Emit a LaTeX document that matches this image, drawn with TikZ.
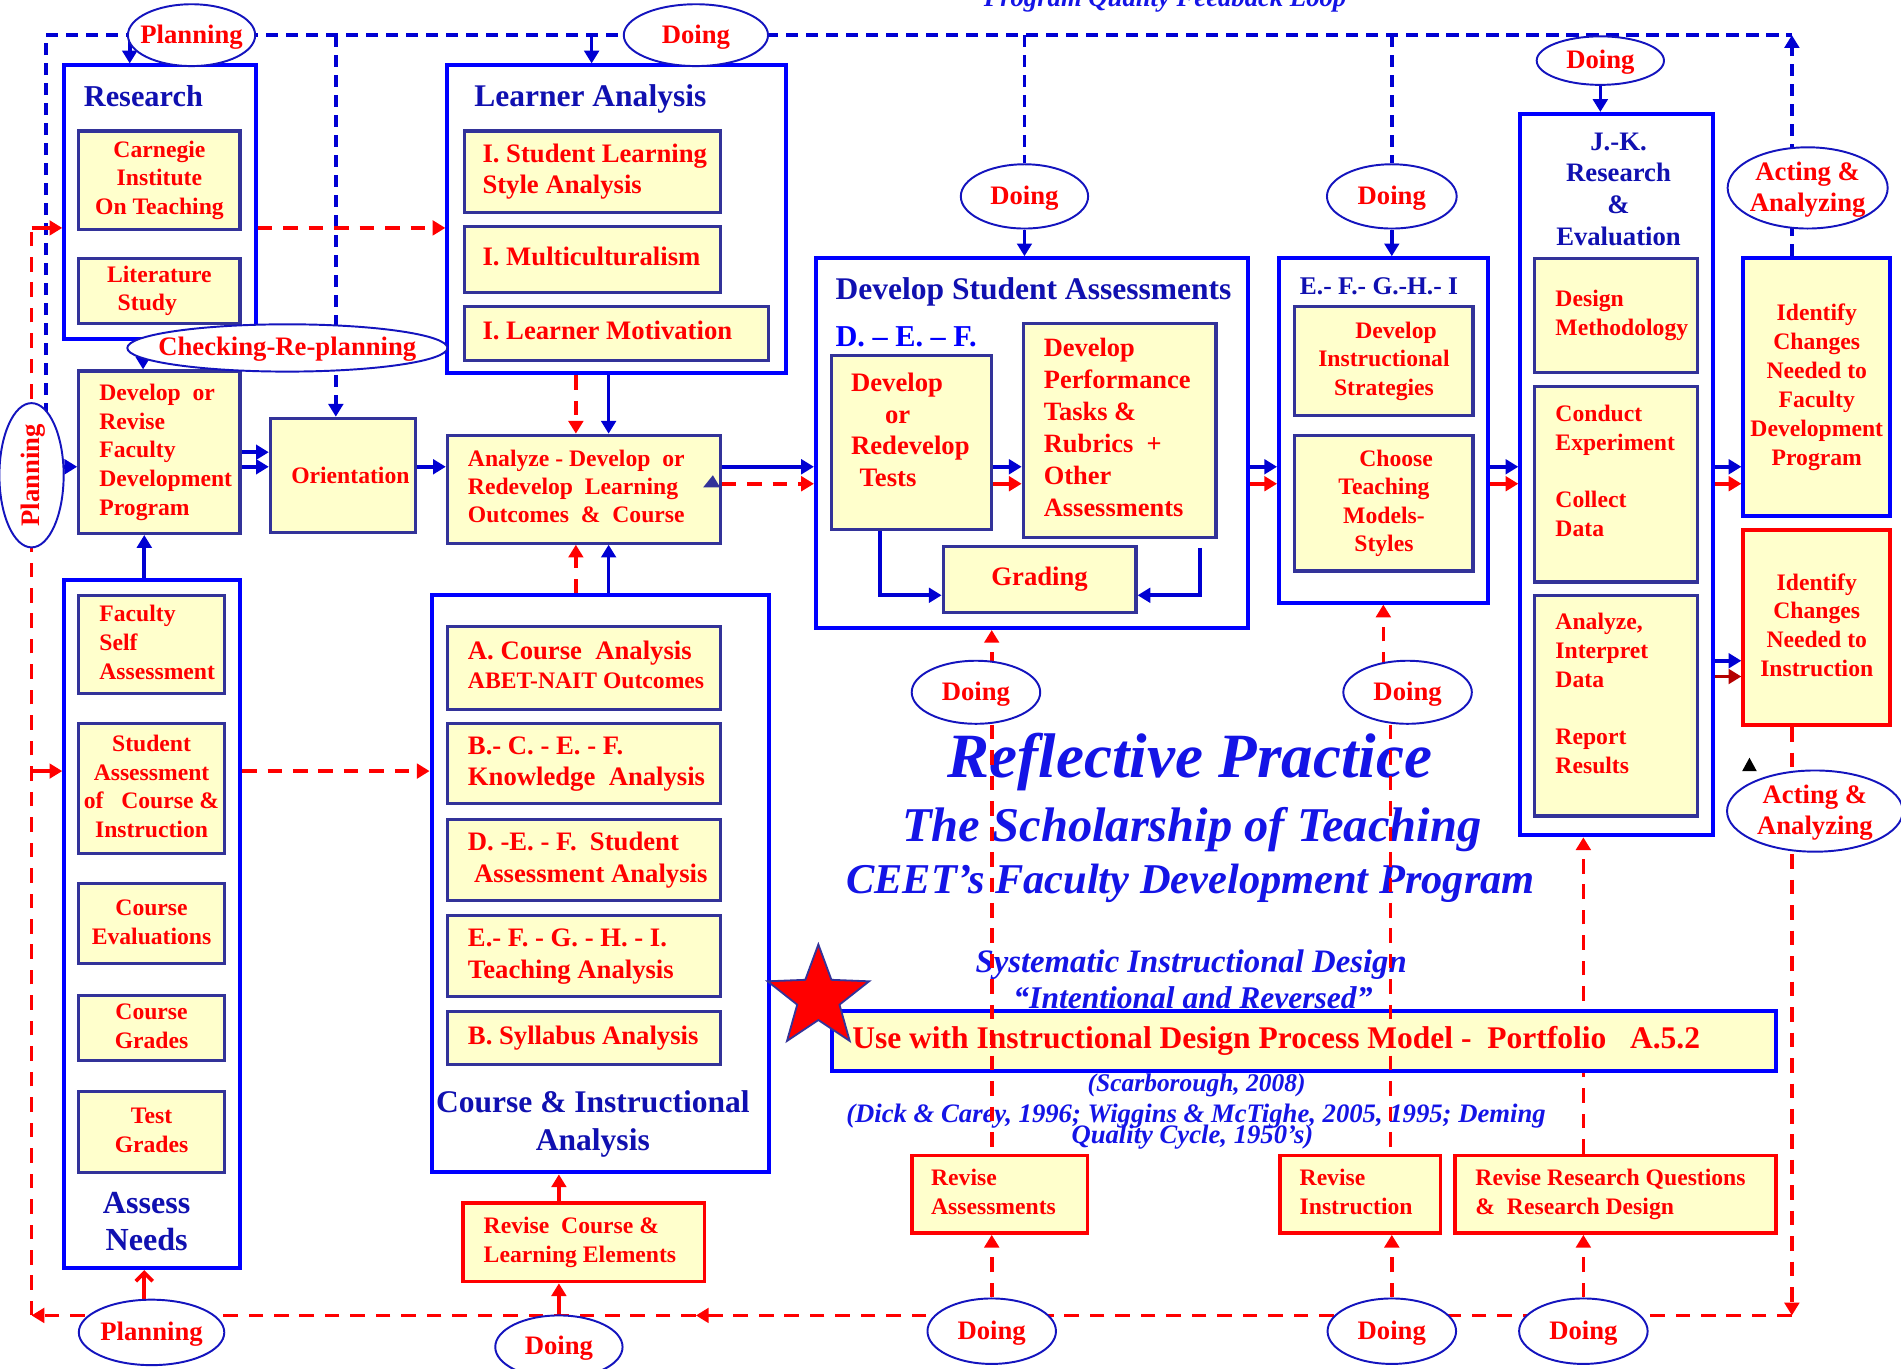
\documentclass[tikz,border=0pt]{standalone}
\usepackage{fontspec}
\setmainfont{Liberation Serif}
\usetikzlibrary{arrows.meta,shapes.geometric,backgrounds}
\definecolor{obl}{RGB}{0,0,255}
\definecolor{ibl}{RGB}{51,51,153}
\definecolor{ttl}{RGB}{16,16,176}
\definecolor{abl}{RGB}{0,0,210}
\definecolor{ebl}{RGB}{20,20,190}
\definecolor{yel}{RGB}{255,255,204}
\definecolor{itb}{RGB}{20,20,230}
\definecolor{dred}{RGB}{180,0,0}
\definecolor{rd}{RGB}{255,0,0}
\newcommand\fz[2]{\fontsize{#1}{#2}\selectfont\bfseries}
\newcommand\fzi[2]{\fontsize{#1}{#2}\selectfont\bfseries\itshape}
\newcommand\lt[2]{\makebox[#1pt][l]{\begin{tabular}{@{}l@{}}#2\end{tabular}}}
\newcommand\ct[1]{\begin{tabular}{@{}c@{}}#1\end{tabular}}
\newcommand\ec[1]{\raisebox{-0.3em}[0pt][0pt]{\makebox[0pt]{\begin{tabular}{@{}c@{}}#1\end{tabular}}}}
\newcommand\bx[7]{\node[#6, minimum width={(#4-#2)*1pt}, minimum height={(#5-#3)*1pt}] (#1) at ({(#2+#4)/2},{(#3+#5)/2}) {#7};}
\newcommand\el[6]{\node[ell, minimum width=#4pt, minimum height=#5pt] (#1) at (#2,#3) {\ec{#6}};}
\tikzset{
  outer/.style={draw=obl, line width=3.3pt, inner sep=0pt},
  inner/.style={draw=ibl, line width=2.6pt, fill=yel, text=rd, inner sep=0pt},
  redbx/.style={draw=rd, line width=3pt, fill=yel, text=rd, inner sep=0pt},
  ttlx/.style={text=ttl, inner sep=0pt},
  itx/.style={text=itb, inner sep=0pt, anchor=base},
  ell/.style={ellipse, draw=ebl, line width=1.6pt, fill=white, inner sep=0pt, text=rd, font=\fz{22}{26}},
  tipx/.style={-{Triangle[length=10.5pt,width=12pt]}},
  barr/.style={draw=abl, line width=3pt, tipx},
  rarr/.style={draw=rd, line width=3pt, tipx},
  bdash/.style={draw=abl, line width=3pt, dash pattern=on 10pt off 6.5pt},
  rdash/.style={draw=rd, line width=3pt, dash pattern=on 12pt off 9pt},
}
\begin{document}
\begin{tikzpicture}[x=1pt,y=-1pt]
\useasboundingbox (0,0) rectangle (1568,1129);
% ---------- outer boxes ----------
\bx{research}{53}{54}{211}{280}{outer}{}
\bx{learner}{369}{54}{648}{308}{outer}{}
\bx{dsa}{673}{213}{1029}{518}{outer}{}
\bx{efghi}{1055}{213}{1227}{497}{outer}{}
\bx{jk}{1254}{94}{1413}{689}{outer}{}
\bx{assess}{53}{478}{198}{1046}{outer}{}
\bx{cia}{356}{491}{634}{967}{outer}{}
% ---------- titles ----------
\node[ttlx, font=\fz{25}{30}, anchor=base west] (researchT) at (69,88) {Research};
\node[ttlx, font=\fz{26}{30}, anchor=base west] (learnerT) at (391,88) {Learner Analysis};
\node[ttlx, font=\fz{26}{30}, anchor=base west] (dsaT) at (689,247) {Develop Student Assessments};
\node[ttlx, text=obl, font=\fz{25}{30}, anchor=base west] (defT) at (689,286) {D. – E. – F.};
\node[ttlx, font=\fz{21}{26}, anchor=base west] (efT) at (1072,243) {E.- F.- G.-H.- I};
\node[ttlx, font=\fz{22}{26.3}] (jkT) at (1335,158) {\ct{J.-K.\\Research\\\&\\Evaluation}};
\node[ttlx, font=\fz{26.5}{31}] (assessT) at (121,1010) {\ct{Assess\\Needs}};
\node[ttlx, font=\fz{26}{31.5}] (ciaT) at (489,927) {\ct{Course \& Instructional\\Analysis}};
% ---------- inner boxes ----------
\bx{carnegie}{65}{108}{198}{189}{inner, font=\fz{19.5}{23.5}}{\ct{Carnegie\\Institute\\On Teaching}}
\bx{lit}{65}{213}{198}{267}{inner, font=\fz{19.5}{23.5}}{\ct{Literature\\Study\hspace*{20pt}}}
\bx{sls}{383}{108}{594}{175}{inner, font=\fz{22}{26}}{\lt{181}{I. Student Learning\\Style Analysis}}
\bx{multi}{383}{187}{594}{241}{inner, font=\fz{22}{26}}{\lt{181}{I. Multiculturalism}}
\bx{motiv}{383}{253}{634}{297}{inner, font=\fz{22}{26}}{\lt{221}{I. Learner Motivation}}
\bx{devrev}{65}{306}{198}{440}{inner, font=\fz{19.5}{23.7}}{\lt{99}{Develop\ \ or\\Revise\\Faculty\\Development\\Program}}
\bx{orient}{223}{345}{343}{439}{inner, font=\fz{19.5}{23.5}}{\hspace*{12pt}Orientation}
\bx{analyze}{369}{359}{594}{448}{inner, font=\fz{19.5}{23}}{\lt{191}{Analyze - Develop\ \ or\\Redevelop\ \ Learning\\Outcomes\ \ \&\ \ Course}}
\bx{tests}{686}{293}{818}{437}{inner, font=\fz{22}{26}}{\lt{100}{Develop\\\hspace*{28pt}or\\Redevelop\\\hspace*{7pt}Tests\\[16pt]}}
\bx{perf}{844}{267}{1003}{443}{inner, font=\fz{21.8}{26.4}}{\lt{125}{Develop\\Performance\\Tasks \&\\Rubrics\ \ +\\Other\\Assessments}}
\bx{grading}{778}{451}{937}{505}{inner, font=\fz{22}{26}}{Grading}
\bx{dis}{1068}{253}{1215}{343}{inner, font=\fz{19.5}{23.5}}{\ct{\hspace*{20pt}Develop\\Instructional\\Strategies}}
\bx{ctm}{1068}{359}{1215}{471}{inner, font=\fz{19.5}{23.5}}{\ct{\hspace*{20pt}Choose\\Teaching\\Models-\\Styles}}
\bx{design}{1266}{213}{1400}{307}{inner, font=\fz{19.5}{24}}{\lt{100}{Design\\Methodology}}
\bx{conduct}{1266}{319}{1400}{480}{inner, font=\fz{19.5}{23.7}}{\lt{100}{Conduct\\Experiment\\ \\Collect\\Data\\[18pt]}}
\bx{anal}{1266}{491}{1400}{673}{inner, font=\fz{19.5}{23.7}}{\lt{100}{Analyze,\\Interpret\\Data\\ \\Report\\Results\\[16pt]}}
\bx{idfdp}{1438}{213}{1559}{426}{outer, fill=yel, text=rd, font=\fz{19.5}{23.9}}{\ct{Identify\\Changes\\Needed to\\Faculty\\Development\\Program}}
\bx{idins}{1438}{437}{1559}{598}{redbx, line width=3.4pt, font=\fz{19.5}{23.7}}{\ct{Identify\\Changes\\Needed to\\Instruction}}
\bx{fsa}{65}{491}{185}{572}{inner, font=\fz{19.5}{24}}{\lt{86}{Faculty\\Self\\Assessment}}
\bx{sac}{65}{597}{185}{704}{inner, font=\fz{19.5}{23.7}}{\ct{Student\\Assessment\\of\ \ \ Course \&\\Instruction}}
\bx{ceval}{65}{729}{185}{795}{inner, font=\fz{19.5}{24}}{\ct{Course\\Evaluations}}
\bx{cgr}{65}{821}{185}{875}{inner, font=\fz{19.5}{24}}{\ct{Course\\Grades}}
\bx{tgr}{65}{900}{185}{967}{inner, font=\fz{19.5}{24}}{\ct{Test\\Grades}}
\bx{aca}{369}{517}{594}{585}{inner, font=\fz{22}{24}}{\lt{191}{A. Course\ \ Analysis\\{\fontsize{19.5}{24}\selectfont ABET-NAIT Outcomes}}}
\bx{bcef}{369}{597}{594}{663}{inner, font=\fz{22}{26}}{\lt{191}{B.- C. - E. - F.\\Knowledge\ \ Analysis}}
\bx{def}{369}{676}{594}{743}{inner, font=\fz{22}{26}}{\lt{191}{D. -E. - F.\ \ Student\\\hspace*{5pt}Assessment Analysis}}
\bx{efghiT}{369}{755}{594}{822}{inner, font=\fz{22}{26}}{\lt{191}{E.- F. - G. - H. - I.\\Teaching Analysis}}
\bx{syl}{369}{834}{594}{878}{inner, font=\fz{22}{26}}{\lt{191}{B. Syllabus Analysis}}
\bx{rcle}{382}{992}{581}{1057}{redbx, font=\fz{19.5}{24}}{\lt{165}{Revise\ \ Course \&\\Learning Elements}}
\bx{ra}{752}{953}{897}{1017}{redbx, font=\fz{19.5}{24}}{\lt{113}{Revise\\Assessments}}
\bx{ri}{1056}{953}{1188}{1017}{redbx, font=\fz{19.5}{24}}{\lt{100}{Revise\\Instruction}}
\bx{rrq}{1200}{953}{1465}{1017}{redbx, font=\fz{19.5}{24}}{\lt{231}{Revise Research Questions\\\&\ \ Research Design}}
% ---------- centre texts ----------
\node[itx, font=\fzi{22}{26}] (pq) at (961,5.5) {Program Quality Feedback Loop};
\node[itx, font=\fzi{52}{60}] (rp) at (981.5,641) {Reflective Practice};
\node[itx, font=\fzi{40}{46}] (sot) at (983,694) {The Scholarship of Teaching};
\node[itx, font=\fzi{35}{40}] (ceet) at (982,737) {CEET’s Faculty Development Program};
\node[itx, font=\fzi{27}{30}] (sid) at (982.5,802) {Systematic Instructional Design};
\node[itx, font=\fzi{26}{30}] (iar) at (984,832) {“Intentional and Reversed”};
\node[itx, font=\fzi{21}{25}] (scar) at (987,900) {(Scarborough, 2008)};
\node[itx, font=\fzi{22}{25}] (dick) at (986.5,925.5) {(Dick \& Carey, 1996; Wiggins \& McTighe, 2005, 1995; Deming};
\node[itx, font=\fzi{22}{25}] (qc) at (983.5,943) {Quality Cycle, 1950’s)};
\bx{usebox}{686}{834}{1465}{883}{outer, fill=yel, text=rd, font=\fz{26}{30}}{\lt{745}{Use with Instructional Design Process Model -\ \ Portfolio\ \ \ A.5.2}}
\node[star, star points=5, star point ratio=2.4, fill=rd, draw=ibl, line width=1.5pt, minimum size=88pt, inner sep=0pt] (star) at (675,823) {};
% ---------- ellipses ----------
\el{ePlanTop}{158}{29}{105}{51}{Planning}
\el{eDoTop}{574}{29}{119}{51}{Doing}
\el{eDoDsa}{845}{162}{105}{53}{Doing}
\el{eDoEf}{1148}{162}{107}{53}{Doing}
\el{eDoJk}{1320}{50}{105}{40}{Doing}
\el{eActTop}{1491}{155}{132}{67}{Acting \&\\Analyzing}
\el{eCheck}{237}{287}{264}{39}{Checking-Re-planning}
\node[ell, rotate=90, minimum width=119pt, minimum height=53pt] (ePlanLeft) at (26,392) {\ec{Planning}};
\el{eDoMid1}{805}{571}{106}{52}{Doing}
\el{eDoMid2}{1161}{571}{106}{52}{Doing}
\el{eActBot}{1497}{669}{145}{67}{Acting \&\\Analyzing}
\el{ePlanBot}{125}{1099}{120}{54}{Planning}
\el{eDoB1}{461}{1111}{105}{52}{Doing}
\el{eDoB2}{818}{1098}{106}{54}{Doing}
\el{eDoB3}{1148}{1098}{106}{54}{Doing}
\el{eDoB4}{1306}{1098}{106}{54}{Doing}
% ---------- helper coordinates ----------
\coordinate (tl) at (38,29); \coordinate (tr) at (1478,29);
\coordinate (bl) at (26,1085); \coordinate (br) at (1478,1085); \coordinate (bm) at (574,1085);
\coordinate (xrs) at (107,0); \coordinate (xo) at (277,0); \coordinate (xla) at (488,0);
\coordinate (xpl) at (50,0); \coordinate (xlr) at (475,0); \coordinate (xlb) at (502,0);
\coordinate (xt) at (726,0); \coordinate (xg) at (990,0); \coordinate (xA) at (818,0);
\coordinate (xB1) at (1141,0); \coordinate (xB2) at (1147,0); \coordinate (xC) at (1306,0);
\coordinate (xck) at (118,0); \coordinate (xan) at (119,0);
\coordinate (yB) at (0,385); \coordinate (yR) at (0,399); \coordinate (yB2) at (0,373);
\coordinate (yJB) at (0,545); \coordinate (yJR) at (0,558); \coordinate (yg) at (0,491);
\coordinate (ygt) at (0,452); \coordinate (yr1) at (0,188); \coordinate (yr2) at (0,636);
% ---------- connectors (behind) ----------
\begin{scope}[on background layer]
\fill[white] (0,0) rectangle (1568,1129);
\draw[bdash] (tl |- ePlanLeft.center) -- (tl) -- (tr);
\draw[bdash, tipx, draw=abl] (tr |- idfdp.north) -- (tr);
\draw[barr] (xrs |- tl) -- (xrs |- research.north);
\draw[bdash, tipx] (xo |- tl) -- (xo |- orient.north);
\draw[barr] (xla |- tl) -- (xla |- learner.north);
\draw[bdash] (eDoDsa |- tl) -- (eDoDsa);
\draw[barr] (eDoDsa.south) -- (eDoDsa.south |- dsa.north);
\draw[bdash] (eDoEf |- tl) -- (eDoEf);
\draw[barr] (eDoEf.south) -- (eDoEf.south |- efghi.north);
\draw[barr] (eDoJk.south) -- (eDoJk.south |- jk.north);
% blue flow
\draw[barr] (xpl |- yB) -- (devrev.west |- yB);
\draw[barr] (devrev.east |- yB2) -- (orient.west |- yB2);
\draw[barr] (devrev.east |- yB) -- (orient.west |- yB);
\draw[barr] (orient.east |- yB) -- (analyze.west |- yB);
\draw[barr] (xlb |- learner.south) -- (xlb |- analyze.north);
\draw[rdash, tipx] (xlr |- learner.south) -- (xlr |- analyze.north);
\draw[barr] (xlb |- cia.north) -- (xlb |- analyze.south);
\draw[rdash, tipx] (xlr |- cia.north) -- (xlr |- analyze.south);
\draw[barr] (analyze.east |- yB) -- (dsa.west |- yB);
\draw[rdash, tipx] (analyze.east |- yR) -- (dsa.west |- yR);
\draw[barr] (tests.east |- yB) -- (perf.west |- yB);
\draw[rarr] (tests.east |- yR) -- (perf.west |- yR);
\draw[barr] (dsa.east |- yB) -- (efghi.west |- yB);
\draw[rarr] (dsa.east |- yR) -- (efghi.west |- yR);
\draw[barr] (efghi.east |- yB) -- (jk.west |- yB);
\draw[rarr] (efghi.east |- yR) -- (jk.west |- yR);
\draw[barr] (jk.east |- yB) -- (idfdp.west |- yB);
\draw[rarr] (jk.east |- yR) -- (idfdp.west |- yR);
\draw[barr] (jk.east |- yJB) -- (idins.west |- yJB);
\draw[rarr, draw=dred] (jk.east |- yJR) -- (idins.west |- yJR);
\draw[barr] (xt |- tests.south) |- (grading.west |- yg);
\draw[barr] (xg |- ygt) |- (grading.east |- yg);
\draw[barr] (xck |- eCheck) -- (xck |- devrev.north);
\draw[barr] (xan |- assess.north) -- (xan |- devrev.south);
% red feedback
\draw[rdash, tipx] (br) -- (bm);
\draw[rdash, tipx] (bm) -- (bl);
\draw[rdash] (bl) -- (bl |- yr1);
\draw[rarr] (bl |- yr1) -- (research.west |- yr1);
\draw[rarr] (bl |- yr2) -- (assess.west |- yr2);
\draw[rdash, tipx] (research.east |- yr1) -- (learner.west |- yr1);
\draw[rdash, tipx] (assess.east |- yr2) -- (cia.west |- yr2);
\draw[rdash, tipx] (tr |- idins.south) -- (br);
\draw[rdash, tipx] (xA |- eDoMid1) -- (xA |- dsa.south);
\draw[rdash, tipx] (xB1 |- eDoMid2) -- (xB1 |- efghi.south);
\draw[rdash, tipx] (xC |- rrq.north) -- (xC |- jk.south);
\draw[rdash, tipx] (eDoB2) -- (eDoB2 |- ra.south);
\draw[rdash, tipx] (eDoB3) -- (eDoB3 |- ri.south);
\draw[rdash, tipx] (eDoB4) -- (eDoB4 |- rrq.south);
\draw[rarr] (eDoB1) -- (eDoB1 |- rcle.south);
\draw[rarr] (eDoB1 |- rcle.north) -- (eDoB1 |- cia.south);
\draw[draw=rd, line width=3pt, -{Straight Barb[length=7pt,width=14pt]}] (xan |- ePlanBot) -- (xan |- assess.south);
\end{scope}
% ---------- connectors in front ----------
\draw[rdash] (xA |- eDoMid1.south) -- (xA |- ra.north);
\draw[rdash] (xB2 |- eDoMid2.south) -- (xB2 |- ri.north);
\fill[ibl] (580,402) -- (588,392) -- (594,402) -- cycle;
\fill[black] (1437,636) -- (1449,636) -- (1443,625) -- cycle;
\end{tikzpicture}
\end{document}
